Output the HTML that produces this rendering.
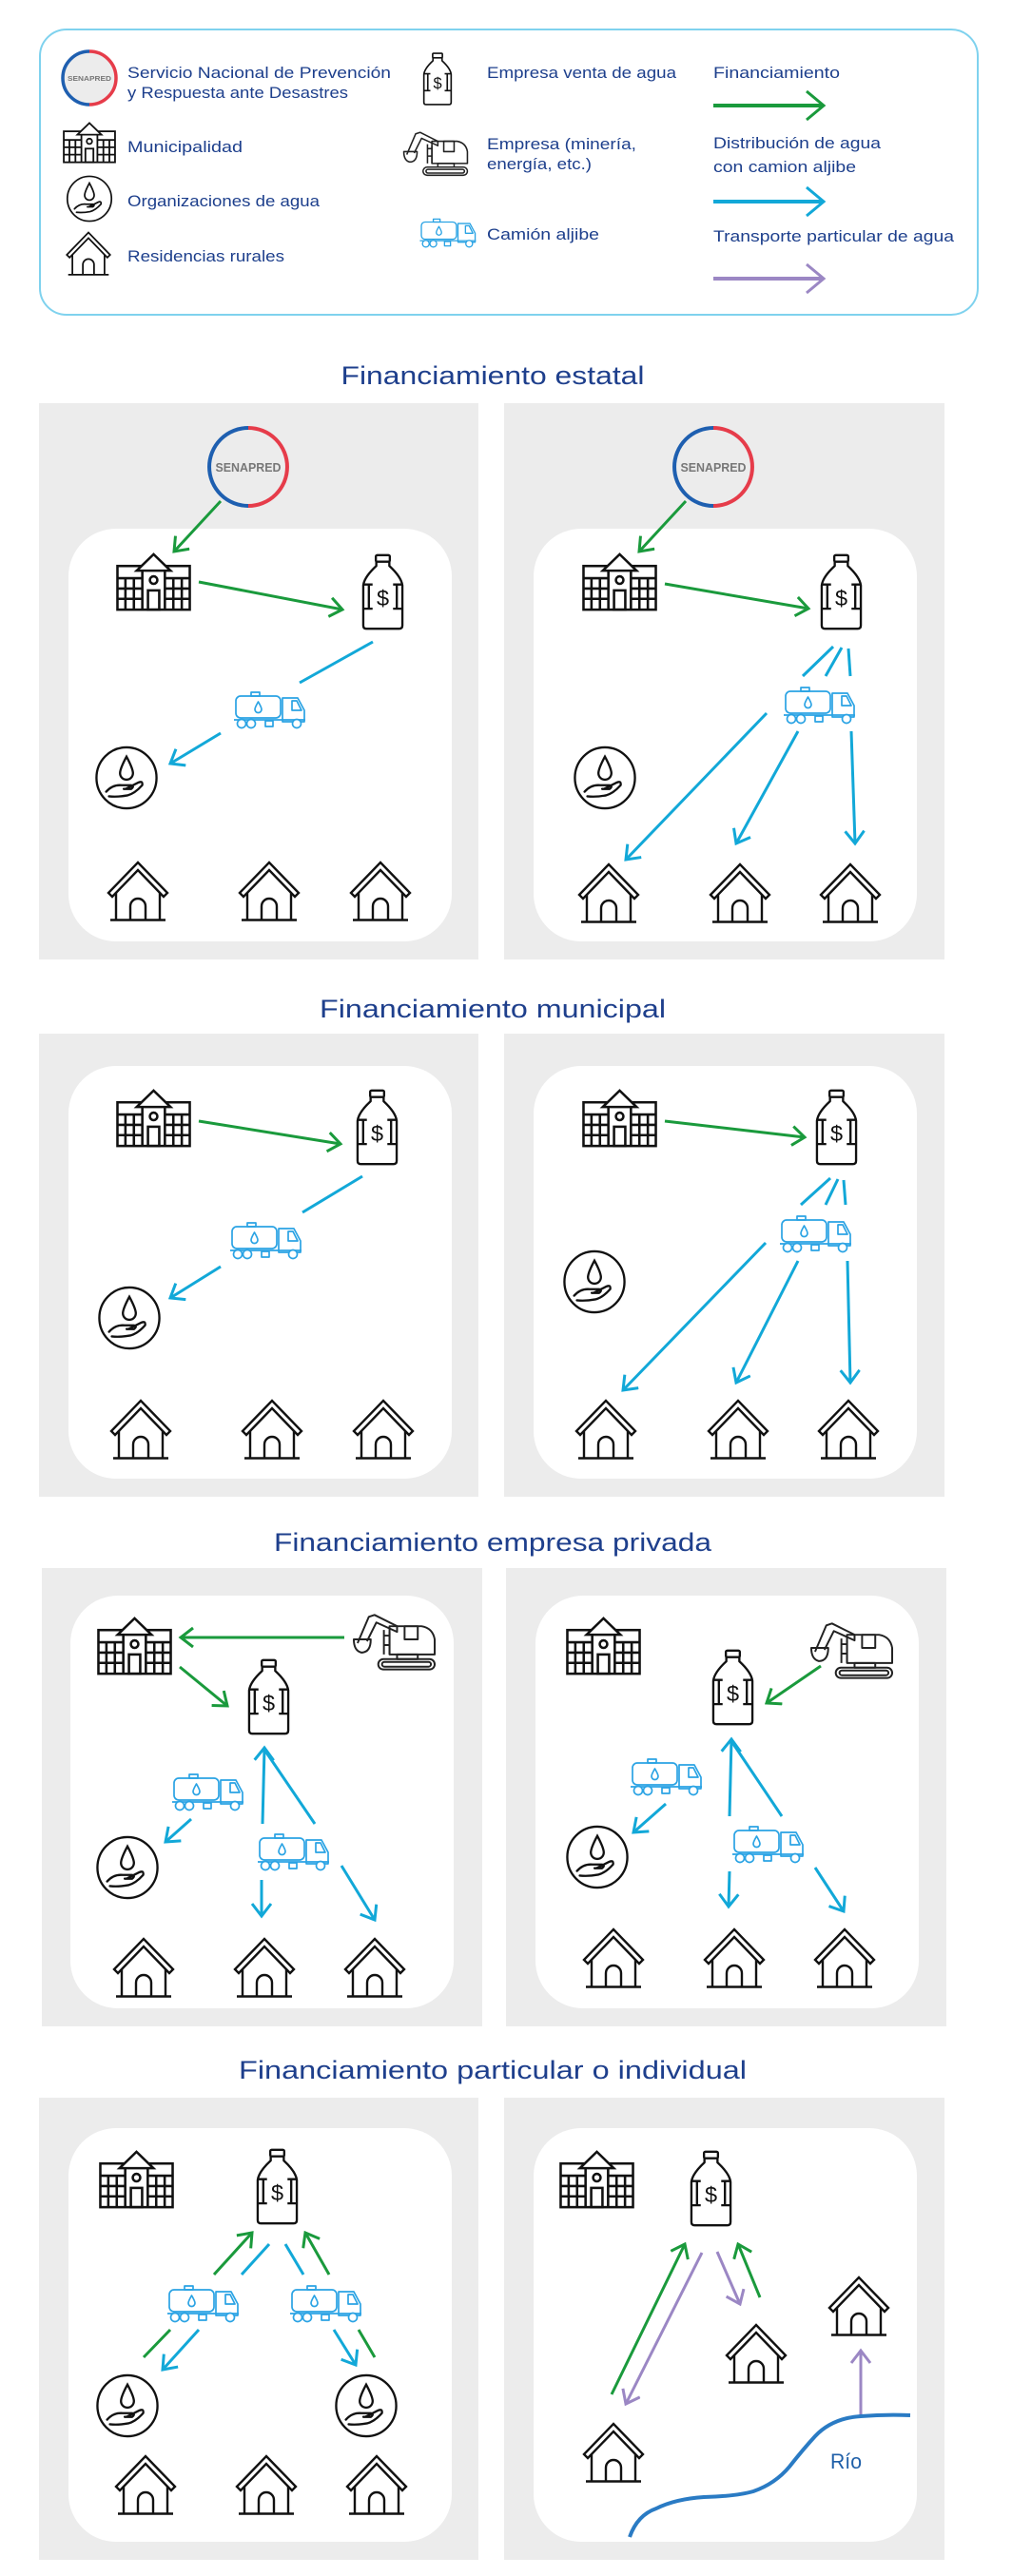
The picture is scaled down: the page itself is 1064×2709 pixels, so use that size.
<!DOCTYPE html>
<html><head><meta charset="utf-8"><style>
html,body{margin:0;padding:0;background:#fff}
svg{display:block}
text{font-family:"Liberation Sans",sans-serif}
</style></head><body>
<svg width="1064" height="2709" viewBox="0 0 1064 2709" xmlns="http://www.w3.org/2000/svg">
<defs>
<marker id="mg" markerUnits="userSpaceOnUse" markerWidth="20" markerHeight="24" refX="14" refY="11" orient="auto"><path d="M1,1 L14,11 L1,21" fill="none" stroke="#1a9a3c" stroke-width="3"/></marker>
<marker id="mb" markerUnits="userSpaceOnUse" markerWidth="20" markerHeight="24" refX="14" refY="11" orient="auto"><path d="M1,1 L14,11 L1,21" fill="none" stroke="#12a8d8" stroke-width="3"/></marker>
<marker id="mp" markerUnits="userSpaceOnUse" markerWidth="20" markerHeight="24" refX="14" refY="11" orient="auto"><path d="M1,1 L14,11 L1,21" fill="none" stroke="#9b87c4" stroke-width="3"/></marker>
<marker id="Lg" markerUnits="userSpaceOnUse" markerWidth="24" markerHeight="34" refX="19" refY="16" orient="auto"><path d="M1,1 L19,16 L1,31" fill="none" stroke="#1a9a3c" stroke-width="3"/></marker>
<marker id="Lb" markerUnits="userSpaceOnUse" markerWidth="24" markerHeight="34" refX="19" refY="16" orient="auto"><path d="M1,1 L19,16 L1,31" fill="none" stroke="#12a8d8" stroke-width="3"/></marker>
<marker id="Lp" markerUnits="userSpaceOnUse" markerWidth="24" markerHeight="34" refX="19" refY="16" orient="auto"><path d="M1,1 L19,16 L1,31" fill="none" stroke="#9b87c4" stroke-width="3"/></marker>

<symbol id="muni" viewBox="0 0 80 62">
 <g fill="none" stroke="#111" stroke-width="2.6">
 <rect x="1.5" y="14" width="77" height="46.5" fill="#fff"/>
 <polygon points="40,1.5 22,19 58,19" fill="#fff"/>
 <line x1="28" y1="19" x2="28" y2="60.5"/><line x1="52" y1="19" x2="52" y2="60.5"/>
 <circle cx="40" cy="29" r="4"/>
 <rect x="34" y="40" width="12" height="20.5"/>
 <line x1="1.5" y1="27" x2="28" y2="27"/><line x1="1.5" y1="38" x2="28" y2="38"/><line x1="1.5" y1="49" x2="28" y2="49"/>
 <line x1="52" y1="27" x2="78.5" y2="27"/><line x1="52" y1="38" x2="78.5" y2="38"/><line x1="52" y1="49" x2="78.5" y2="49"/>
 <line x1="10" y1="27" x2="10" y2="60"/><line x1="19" y1="27" x2="19" y2="60"/>
 <line x1="61" y1="27" x2="61" y2="60"/><line x1="70" y1="27" x2="70" y2="60"/>
 </g>
</symbol>
<symbol id="bottle" viewBox="0 0 48 82">
 <g fill="none" stroke="#111" stroke-width="2.4" stroke-linejoin="round">
 <rect x="16.5" y="1.5" width="15" height="7" rx="1.5"/>
 <path d="M17 8.5 L17 13 Q4 25 3 34 L3 77 Q3 80.5 6.5 80.5 L41.5 80.5 Q45 80.5 45 77 L45 34 Q44 25 31 13 L31 8.5"/>
 <path d="M3 33 L13 33 M35 33 L45 33 M3 59 L13 59 M35 59 L45 59 M9 33 L9 59 M39 33 L39 59"/>
 </g>
 <text x="24" y="56" font-size="24" text-anchor="middle" fill="#111">$</text>
</symbol>
<symbol id="house" viewBox="0 0 68 64">
 <g fill="none" stroke="#111" stroke-width="2.4" stroke-linejoin="miter">
 <path d="M3 34 L34 2 L65 34 L61 38 L34 10 L7 38 Z" fill="#fff"/>
 <path d="M11 34 L11 62 M57 34 L57 62 M5 62.5 L63 62.5"/>
 <path d="M26 62 L26 48 A8 8 0 0 1 42 48 L42 62"/>
 </g>
</symbol>
<symbol id="org" viewBox="0 0 70 70">
 <g fill="none" stroke="#111" stroke-width="2.4" stroke-linecap="round">
 <ellipse cx="35" cy="35" rx="32.5" ry="33" fill="#fff"/>
 <path d="M35 12 Q28 25 28 30 A7 7 0 0 0 42 30 Q42 25 35 12 Z"/>
 <path d="M13 50 Q20 42 30 43 L40 43 Q44 44 40 47 L32 47 M34 47 L48 40 Q53 38 52 43 Q44 52 36 54 Q25 56 16 55"/>
 </g>
</symbol>
<symbol id="truck" viewBox="0 0 80 42">
 <g fill="none" stroke="#2aa3e4" stroke-width="1.7" stroke-linejoin="round">
 <rect x="5" y="7" width="47" height="23" rx="5"/>
 <rect x="21" y="3" width="9" height="4"/>
 <path d="M28.5 13 Q25 19 25 21 A3.5 3.5 0 0 0 32 21 Q32 19 28.5 13 Z"/>
 <path d="M54 9 L70 9 L77 22 L77 34 L54 34 Z"/>
 <path d="M64 12 L69 12 L74 22 L64 22 Z"/>
 <line x1="3" y1="32" x2="78" y2="32"/>
 <circle cx="11" cy="36" r="4.5" fill="#fff"/><circle cx="21" cy="36" r="4.5" fill="#fff"/><circle cx="69" cy="36" r="4.5" fill="#fff"/>
 <rect x="36" y="33" width="8" height="6" fill="#fff"/>
 </g>
</symbol>
<symbol id="exc" viewBox="0 0 90 64">
 <g fill="none" stroke="#222" stroke-width="2" stroke-linejoin="round">
 <path d="M6 34 L18 6 L24 4 L48 16 L48 22 L26 12 L16 32"/>
 <path d="M2 30 L20 30 Q20 44 10 44 Q2 42 2 30 Z"/>
 <path d="M34 20 L34 46 M40 22 L40 46"/>
 <path d="M40 16 L74 16 Q86 18 88 30 L88 46 L40 46 Z"/>
 <rect x="56" y="16" width="14" height="14"/>
 <path d="M34 26 L40 26 M34 36 L40 36"/>
 <rect x="48" y="46" width="22" height="5"/>
 <rect x="28" y="51" width="60" height="11" rx="5.5"/>
 <rect x="32" y="54" width="52" height="5" rx="2.5"/>
 </g>
</symbol>
</defs>

<!-- LEGEND -->
<rect x="42" y="31" width="986" height="300" rx="28" fill="#fff" stroke="#7fd2ee" stroke-width="2"/>
<circle cx="94" cy="82" r="28" fill="#ececec"/>
<path d="M94 54 A28 28 0 0 0 94 110" fill="none" stroke="#1e5fb0" stroke-width="3.5"/>
<path d="M94 54 A28 28 0 0 1 94 110" fill="none" stroke="#e63c4a" stroke-width="3.5"/>
<text x="94" y="85" font-size="7.5" font-weight="bold" fill="#777" text-anchor="middle" textLength="46" lengthAdjust="spacingAndGlyphs">SENAPRED</text>
<g font-size="17" fill="#1d3f8c">
<text x="134" y="82" textLength="277" lengthAdjust="spacingAndGlyphs">Servicio Nacional de Prevención</text>
<text x="134" y="103" textLength="232" lengthAdjust="spacingAndGlyphs">y Respuesta ante Desastres</text>
<text x="134" y="160" textLength="121" lengthAdjust="spacingAndGlyphs">Municipalidad</text>
<text x="134" y="217" textLength="202" lengthAdjust="spacingAndGlyphs">Organizaciones de agua</text>
<text x="134" y="275" textLength="165" lengthAdjust="spacingAndGlyphs">Residencias rurales</text>
<text x="512" y="82" textLength="199" lengthAdjust="spacingAndGlyphs">Empresa venta de agua</text>
<text x="512" y="157" textLength="157" lengthAdjust="spacingAndGlyphs">Empresa (minería,</text>
<text x="512" y="178" textLength="110" lengthAdjust="spacingAndGlyphs">energía, etc.)</text>
<text x="512" y="252" textLength="118" lengthAdjust="spacingAndGlyphs">Camión aljibe</text>
<text x="750" y="82" textLength="133" lengthAdjust="spacingAndGlyphs">Financiamiento</text>
<text x="750" y="156" textLength="176" lengthAdjust="spacingAndGlyphs">Distribución de agua</text>
<text x="750" y="181" textLength="150" lengthAdjust="spacingAndGlyphs">con camion aljibe</text>
<text x="750" y="254" textLength="253" lengthAdjust="spacingAndGlyphs">Transporte particular de agua</text>
</g>
<use href="#muni" x="66" y="128" width="56" height="44"/>
<use href="#org" x="69" y="184" width="50" height="50"/>
<use href="#house" x="68" y="243" width="50" height="47"/>
<use href="#bottle" x="441" y="55" width="38" height="56"/>
<use href="#exc" x="423" y="136" width="70" height="50"/>
<use href="#truck" x="438" y="228" width="65" height="33"/>
<line x1="750" y1="111" x2="866" y2="111" stroke="#1a9a3c" stroke-width="4" marker-end="url(#Lg)"/>
<line x1="750" y1="212" x2="866" y2="212" stroke="#12a8d8" stroke-width="4" marker-end="url(#Lb)"/>
<line x1="750" y1="293" x2="866" y2="293" stroke="#9b87c4" stroke-width="4" marker-end="url(#Lp)"/>

<!-- TITLES -->
<g font-size="27" fill="#1e3f8c" text-anchor="middle">
<text x="518" y="404" textLength="319" lengthAdjust="spacingAndGlyphs">Financiamiento estatal</text>
<text x="518" y="1070" textLength="364" lengthAdjust="spacingAndGlyphs">Financiamiento municipal</text>
<text x="518" y="1631" textLength="460" lengthAdjust="spacingAndGlyphs">Financiamiento empresa privada</text>
<text x="518" y="2186" textLength="534" lengthAdjust="spacingAndGlyphs">Financiamiento particular o individual</text>
</g>

<!-- PANELS -->
<g fill="#ececec">
<rect x="41" y="424" width="462" height="585"/><rect x="530" y="424" width="463" height="585"/>
<rect x="41" y="1087" width="462" height="487"/><rect x="530" y="1087" width="463" height="487"/>
<rect x="44" y="1649" width="463" height="482"/><rect x="532" y="1649" width="463" height="482"/>
<rect x="41" y="2206" width="462" height="486"/><rect x="530" y="2206" width="463" height="486"/>
</g>
<g fill="#fff">
<rect x="72" y="556" width="403" height="434" rx="50"/><rect x="561" y="556" width="403" height="434" rx="50"/>
<rect x="72" y="1121" width="403" height="434" rx="50"/><rect x="561" y="1121" width="403" height="434" rx="50"/>
<rect x="74" y="1678" width="403" height="434" rx="50"/><rect x="563" y="1678" width="403" height="434" rx="50"/>
<rect x="72" y="2238" width="403" height="435" rx="50"/><rect x="561" y="2238" width="403" height="435" rx="50"/>
</g>

<!-- SECTION 1 -->
<g>
<circle cx="261" cy="491" r="41" fill="#ececec"/>
<path d="M261 450 A41 41 0 0 0 261 532" fill="none" stroke="#1e5fb0" stroke-width="4"/>
<path d="M261 450 A41 41 0 0 1 261 532" fill="none" stroke="#e63c4a" stroke-width="4"/>
<text x="261" y="496" font-size="13" font-weight="bold" fill="#777" text-anchor="middle" textLength="69" lengthAdjust="spacingAndGlyphs">SENAPRED</text>
<circle cx="750" cy="491" r="41" fill="#ececec"/>
<path d="M750 450 A41 41 0 0 0 750 532" fill="none" stroke="#1e5fb0" stroke-width="4"/>
<path d="M750 450 A41 41 0 0 1 750 532" fill="none" stroke="#e63c4a" stroke-width="4"/>
<text x="750" y="496" font-size="13" font-weight="bold" fill="#777" text-anchor="middle" textLength="69" lengthAdjust="spacingAndGlyphs">SENAPRED</text>
</g>
<use href="#muni" x="122" y="581" width="79" height="62"/>
<use href="#bottle" x="379" y="582" width="47" height="81"/>
<use href="#truck" x="243" y="725" width="80" height="42"/>
<use href="#org" x="99" y="784" width="68" height="68"/>
<use href="#house" x="111" y="905" width="68" height="64"/>
<use href="#house" x="249" y="905" width="68" height="64"/>
<use href="#house" x="366" y="905" width="68" height="64"/>
<use href="#muni" x="612" y="581" width="79" height="62"/>
<use href="#bottle" x="861" y="582" width="47" height="81"/>
<use href="#truck" x="821" y="720" width="80" height="42"/>
<use href="#org" x="602" y="784" width="68" height="68"/>
<use href="#house" x="606" y="907" width="68" height="64"/>
<use href="#house" x="744" y="907" width="68" height="64"/>
<use href="#house" x="860" y="907" width="68" height="64"/>
<g stroke-width="3" fill="none">
<line x1="232" y1="527" x2="183" y2="580" stroke="#1a9a3c" marker-end="url(#mg)"/>
<line x1="209" y1="612" x2="360" y2="641" stroke="#1a9a3c" marker-end="url(#mg)"/>
<line x1="392" y1="675" x2="315" y2="718" stroke="#12a8d8"/>
<line x1="232" y1="771" x2="179" y2="803" stroke="#12a8d8" marker-end="url(#mb)"/>
<line x1="721" y1="527" x2="672" y2="580" stroke="#1a9a3c" marker-end="url(#mg)"/>
<line x1="699" y1="614" x2="850" y2="640" stroke="#1a9a3c" marker-end="url(#mg)"/>
<line x1="876" y1="680" x2="844" y2="711" stroke="#12a8d8"/>
<line x1="885" y1="681" x2="868" y2="711" stroke="#12a8d8"/>
<line x1="892" y1="682" x2="894" y2="711" stroke="#12a8d8"/>
<line x1="806" y1="750" x2="658" y2="904" stroke="#12a8d8" marker-end="url(#mb)"/>
<line x1="839" y1="769" x2="774" y2="887" stroke="#12a8d8" marker-end="url(#mb)"/>
<line x1="895" y1="769" x2="899" y2="887" stroke="#12a8d8" marker-end="url(#mb)"/>
</g>

<!-- SECTION 2 -->
<use href="#muni" x="122" y="1145" width="79" height="62"/>
<use href="#bottle" x="373" y="1145" width="47" height="81"/>
<use href="#truck" x="239" y="1283" width="80" height="42"/>
<use href="#org" x="102" y="1352" width="68" height="68"/>
<use href="#house" x="114" y="1471" width="68" height="64"/>
<use href="#house" x="252" y="1471" width="68" height="64"/>
<use href="#house" x="369" y="1471" width="68" height="64"/>
<use href="#muni" x="612" y="1145" width="79" height="62"/>
<use href="#bottle" x="856" y="1145" width="47" height="81"/>
<use href="#truck" x="817" y="1276" width="80" height="42"/>
<use href="#org" x="591" y="1314" width="68" height="68"/>
<use href="#house" x="603" y="1471" width="68" height="64"/>
<use href="#house" x="742" y="1471" width="68" height="64"/>
<use href="#house" x="858" y="1471" width="68" height="64"/>
<g stroke-width="3" fill="none">
<line x1="209" y1="1179" x2="358" y2="1203" stroke="#1a9a3c" marker-end="url(#mg)"/>
<line x1="381" y1="1237" x2="318" y2="1275" stroke="#12a8d8"/>
<line x1="232" y1="1332" x2="179" y2="1365" stroke="#12a8d8" marker-end="url(#mb)"/>
<line x1="699" y1="1179" x2="846" y2="1196" stroke="#1a9a3c" marker-end="url(#mg)"/>
<line x1="873" y1="1239" x2="842" y2="1267" stroke="#12a8d8"/>
<line x1="881" y1="1240" x2="868" y2="1267" stroke="#12a8d8"/>
<line x1="887" y1="1241" x2="889" y2="1267" stroke="#12a8d8"/>
<line x1="805" y1="1307" x2="655" y2="1462" stroke="#12a8d8" marker-end="url(#mb)"/>
<line x1="839" y1="1326" x2="774" y2="1454" stroke="#12a8d8" marker-end="url(#mb)"/>
<line x1="891" y1="1326" x2="894" y2="1454" stroke="#12a8d8" marker-end="url(#mb)"/>
</g>

<!-- SECTION 3 -->
<use href="#muni" x="102" y="1700" width="79" height="62"/>
<use href="#exc" x="370" y="1694" width="89" height="64"/>
<use href="#bottle" x="259" y="1744" width="47" height="81"/>
<use href="#truck" x="178" y="1863" width="80" height="42"/>
<use href="#org" x="100" y="1930" width="68" height="68"/>
<use href="#truck" x="268" y="1926" width="80" height="42"/>
<use href="#house" x="117" y="2037" width="68" height="64"/>
<use href="#house" x="244" y="2037" width="68" height="64"/>
<use href="#house" x="360" y="2037" width="68" height="64"/>
<use href="#muni" x="595" y="1700" width="79" height="62"/>
<use href="#exc" x="851" y="1703" width="89" height="64"/>
<use href="#bottle" x="747" y="1734" width="47" height="81"/>
<use href="#truck" x="660" y="1847" width="80" height="42"/>
<use href="#org" x="594" y="1919" width="68" height="68"/>
<use href="#truck" x="767" y="1918" width="80" height="42"/>
<use href="#house" x="611" y="2027" width="68" height="64"/>
<use href="#house" x="738" y="2027" width="68" height="64"/>
<use href="#house" x="854" y="2027" width="68" height="64"/>
<g stroke-width="3" fill="none">
<line x1="362" y1="1722" x2="190" y2="1722" stroke="#1a9a3c" marker-end="url(#mg)"/>
<line x1="189" y1="1753" x2="239" y2="1794" stroke="#1a9a3c" marker-end="url(#mg)"/>
<line x1="276" y1="1918" x2="278" y2="1838" stroke="#12a8d8" marker-end="url(#mb)"/>
<line x1="278" y1="1840" x2="331" y2="1918" stroke="#12a8d8"/>
<line x1="201" y1="1913" x2="174" y2="1937" stroke="#12a8d8" marker-end="url(#mb)"/>
<line x1="275" y1="1977" x2="275" y2="2015" stroke="#12a8d8" marker-end="url(#mb)"/>
<line x1="359" y1="1962" x2="394" y2="2019" stroke="#12a8d8" marker-end="url(#mb)"/>
<line x1="863" y1="1752" x2="806" y2="1791" stroke="#1a9a3c" marker-end="url(#mg)"/>
<line x1="767" y1="1910" x2="769" y2="1829" stroke="#12a8d8" marker-end="url(#mb)"/>
<line x1="769" y1="1831" x2="822" y2="1910" stroke="#12a8d8"/>
<line x1="700" y1="1897" x2="666" y2="1927" stroke="#12a8d8" marker-end="url(#mb)"/>
<line x1="767" y1="1968" x2="766" y2="2005" stroke="#12a8d8" marker-end="url(#mb)"/>
<line x1="857" y1="1964" x2="887" y2="2010" stroke="#12a8d8" marker-end="url(#mb)"/>
</g>

<!-- SECTION 4 -->
<use href="#muni" x="104" y="2261" width="79" height="62"/>
<use href="#bottle" x="268" y="2259" width="47" height="81"/>
<use href="#truck" x="173" y="2401" width="80" height="42"/>
<use href="#truck" x="302" y="2401" width="80" height="42"/>
<use href="#org" x="100" y="2496" width="68" height="68"/>
<use href="#org" x="351" y="2496" width="68" height="68"/>
<use href="#house" x="119" y="2581" width="68" height="64"/>
<use href="#house" x="246" y="2581" width="68" height="64"/>
<use href="#house" x="362" y="2581" width="68" height="64"/>
<use href="#muni" x="588" y="2261" width="79" height="62"/>
<use href="#bottle" x="724" y="2261" width="47" height="81"/>
<use href="#house" x="611" y="2547" width="68" height="64"/>
<use href="#house" x="761" y="2443" width="68" height="64"/>
<use href="#house" x="869" y="2393" width="68" height="64"/>
<g stroke-width="3" fill="none">
<line x1="225" y1="2392" x2="265" y2="2348" stroke="#1a9a3c" marker-end="url(#mg)"/>
<line x1="254" y1="2392" x2="283" y2="2360" stroke="#12a8d8"/>
<line x1="300" y1="2360" x2="319" y2="2392" stroke="#12a8d8"/>
<line x1="346" y1="2392" x2="321" y2="2348" stroke="#1a9a3c" marker-end="url(#mg)"/>
<line x1="179" y1="2450" x2="151" y2="2479" stroke="#1a9a3c"/>
<line x1="209" y1="2450" x2="171" y2="2492" stroke="#12a8d8" marker-end="url(#mb)"/>
<line x1="351" y1="2450" x2="374" y2="2487" stroke="#12a8d8" marker-end="url(#mb)"/>
<line x1="377" y1="2450" x2="394" y2="2479" stroke="#1a9a3c"/>
<line x1="643" y1="2518" x2="720" y2="2360" stroke="#1a9a3c" marker-end="url(#mg)"/>
<line x1="738" y1="2369" x2="658" y2="2528" stroke="#9b87c4" marker-end="url(#mp)"/>
<line x1="754" y1="2368" x2="778" y2="2423" stroke="#9b87c4" marker-end="url(#mp)"/>
<line x1="799" y1="2416" x2="776" y2="2360" stroke="#1a9a3c" marker-end="url(#mg)"/>
<line x1="905" y1="2542" x2="905" y2="2472" stroke="#9b87c4" marker-end="url(#mp)"/>
<path d="M662 2668 Q670 2645 690 2638 Q710 2628 740 2626 Q775 2625 792 2620 Q815 2612 830 2594 Q845 2575 857 2562 Q875 2543 905 2541 Q930 2539 957 2540" stroke="#2a7bc4" stroke-width="4"/>
</g>
<text x="873" y="2596" font-size="22" fill="#1f5fa8" textLength="33" lengthAdjust="spacingAndGlyphs">Río</text>
</svg>
</body></html>
